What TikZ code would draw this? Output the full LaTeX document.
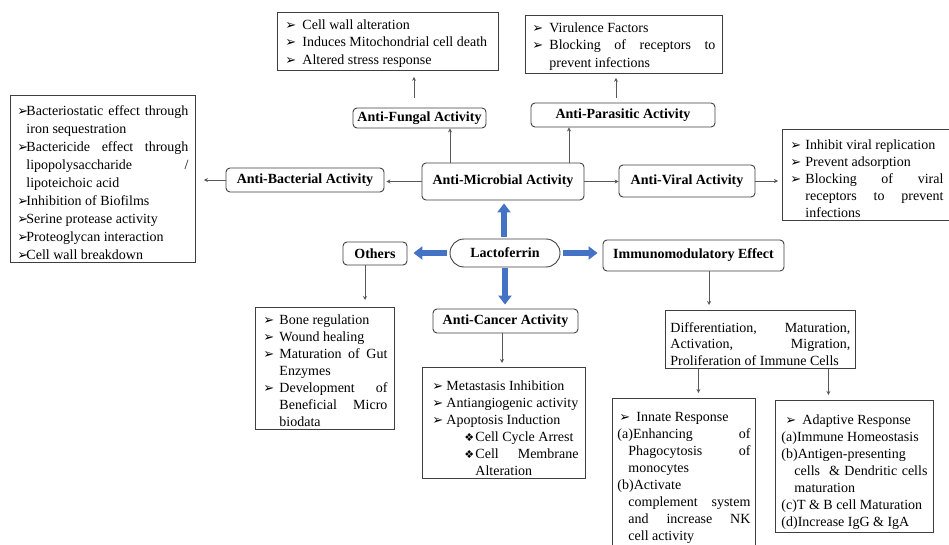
\documentclass[tikz,border=0pt]{standalone}
\usepackage{fontspec}
\setmainfont{Liberation Serif}
\newfontfamily\dingfont{DejaVu Sans}
\usetikzlibrary{arrows.meta, positioning}
\definecolor{BoxLine}{HTML}{3F3F3F}
\definecolor{LinkGray}{HTML}{595959}
\definecolor{LactoBlue}{HTML}{4472C4}
\hyphenpenalty=10000
\exhyphenpenalty=10000
\tolerance=10000
\hbadness=10000
\vbadness=10000
\newcommand{\arrbul}{{\dingfont\fontsize{13}{13}\selectfont ➢}}
\newcommand{\diabul}{{\dingfont\fontsize{11}{11}\selectfont ❖}}
% list items: bullet offset, text offset, text
\newcommand{\bitem}[3]{\par\noindent\hangindent=#2\hangafter=1\hspace*{#1}\makebox[\dimexpr#2-#1\relax][l]{\arrbul}#3}
\newcommand{\ditem}[3]{\par\noindent\hangindent=#2\hangafter=1\hspace*{#1}\makebox[\dimexpr#2-#1\relax][l]{\diabul}#3}
\newcommand{\litem}[2]{\par\noindent\hangindent=#1\hangafter=1 #2}
% top and bottom padding inside a list box
\newcommand{\padtop}[1]{\par\vskip #1\relax}
\newcommand{\padbot}[1]{\par\vskip #1\relax}

\begin{document}
\begin{tikzpicture}[x=1pt, y=-1pt,
    listbox/.style={draw=BoxLine, line width=0.9pt, rectangle, anchor=north west, inner ysep=3pt, align=justify, font=\fontsize{14}{17}\selectfont},
    headbox/.style={draw=BoxLine, line width=0.9pt, rectangle, rounded corners=4pt, inner sep=0pt, font=\fontsize{14}{17}\selectfont\bfseries},
    link/.style={draw=LinkGray, line width=0.8pt, -{Stealth[length=4pt,width=4pt]}},
    bluelink/.style={draw=LactoBlue, line width=6pt, -{Triangle[length=9pt,width=13pt]}}]
  \useasboundingbox (0,0) rectangle (949,545);

  % Nodes
  \node [listbox, inner xsep=8pt, text width=205pt, font=\fontsize{14}{17.5}\selectfont] (fungal) at (277,12) {\padtop{-3.5pt}%
    \bitem{0pt}{17pt}{Cell wall alteration}
    \bitem{0pt}{17pt}{Induces Mitochondrial cell death}
    \bitem{0pt}{17pt}{Altered stress response}\padbot{1pt}};

  \node [listbox, inner xsep=7pt, text width=183pt, font=\fontsize{14}{17.5}\selectfont] (parasitic) at (525,15) {\padtop{-3.5pt}%
    \bitem{0pt}{17pt}{Virulence Factors}
    \bitem{0pt}{17pt}{Blocking of receptors to\linebreak prevent infections}\padbot{0pt}};

  \node [headbox, minimum width=133pt, minimum height=20pt] (afungal) at (419.5,118) {Anti-Fungal Activity};
  \node [headbox, minimum width=184pt, minimum height=24pt] (aparas) at (623,115) {Anti-Parasitic Activity};
  \node [headbox, minimum width=162pt, minimum height=37pt] (amicro) at (503,181.5) {Anti-Microbial Activity};
  \node [headbox, minimum width=158pt, minimum height=24pt] (abact) at (305,180) {Anti-Bacterial Activity};
  \node [headbox, minimum width=136pt, minimum height=32pt] (aviral) at (687,181) {Anti-Viral Activity};

  \node [listbox, inner xsep=7pt, text width=171pt, font=\fontsize{14}{18}\selectfont] (bact) at (10,95) {\padtop{-1pt}%
    \bitem{0pt}{9pt}{Bacteriostatic effect through\linebreak iron sequestration}
    \bitem{0pt}{9pt}{Bactericide effect through\linebreak lipopolysaccharide /\linebreak lipoteichoic acid}
    \bitem{0pt}{9pt}{Inhibition of Biofilms}
    \bitem{0pt}{9pt}{Serine protease activity}
    \bitem{0pt}{9pt}{Proteoglycan interaction}
    \bitem{0pt}{9pt}{Cell wall breakdown}\padbot{0.7pt}};

  \node [listbox, inner xsep=8pt, text width=153pt] (viral) at (782,129) {\padtop{0pt}%
    \bitem{0pt}{15pt}{Inhibit viral replication}
    \bitem{0pt}{15pt}{Prevent adsorption}
    \bitem{0pt}{15pt}{Blocking of viral\linebreak receptors to prevent\linebreak infections}\padbot{5.7pt}};

  \node [headbox, minimum width=64pt, minimum height=23pt] (others) at (375,253.5) {Others};
  \node [headbox, rounded corners=14pt, minimum width=110pt, minimum height=28pt] (lacto) at (505,253) {Lactoferrin};
  \node [headbox, minimum width=181pt, minimum height=31pt] (immuno) at (693.5,255.5) {Immunomodulatory Effect};
  \node [headbox, minimum width=145pt, minimum height=24pt] (acancer) at (505.5,321) {Anti-Cancer Activity};

  \node [listbox, inner xsep=7pt, text width=125pt] (olist) at (255,307) {\padtop{-3.2pt}%
    \bitem{1pt}{17pt}{Bone regulation}
    \bitem{1pt}{17pt}{Wound healing}
    \bitem{1pt}{17pt}{Maturation of Gut\linebreak Enzymes}
    \bitem{1pt}{17pt}{Development of\linebreak Beneficial Micro\linebreak biodata}\padbot{5.7pt}};

  \node [listbox, inner xsep=7pt, text width=149pt] (cancer) at (422,367) {\padtop{3pt}%
    \bitem{3pt}{17pt}{Metastasis Inhibition}
    \bitem{3pt}{17pt}{Antiangiogenic activity}
    \bitem{3pt}{17pt}{Apoptosis Induction}
    \ditem{35pt}{46pt}{Cell Cycle Arrest}
    \ditem{35pt}{46pt}{Cell Membrane\linebreak Alteration}\padbot{8.7pt}};

  \node [listbox, inner xsep=5pt, text width=180pt, font=\fontsize{14}{16.5}\selectfont] (diff) at (665,310) {\padtop{2.5pt}%
    \litem{0pt}{Differentiation, Maturation,\linebreak Activation, Migration,\linebreak Proliferation of Immune Cells}\padbot{7.7pt}};

  \node [listbox, inner xsep=5pt, text width=133pt] (innate) at (612,398) {\padtop{3pt}%
    \bitem{2pt}{19pt}{Innate Response}
    \litem{11pt}{(a)Enhancing of\linebreak Phagocytosis of\linebreak monocytes}
    \litem{11pt}{(b)Activate\newline complement system\linebreak and increase NK\linebreak cell activity}\padbot{20pt}};

  \node [listbox, inner xsep=6pt, text width=146pt] (adaptive) at (775,400) {\padtop{4pt}%
    \bitem{4pt}{21pt}{Adaptive Response}
    \litem{13pt}{(a)Immune Homeostasis}
    \litem{13pt}{(b)Antigen-presenting\newline cells \ \& Dendritic cells\linebreak maturation}
    \litem{13pt}{(c)T \& B cell Maturation}
    \litem{13pt}{(d)Increase IgG \& IgA}\padbot{6pt}};

  % Paths
  \draw[link, shorten <=10pt, shorten >=6pt] ([xshift=-5.5pt]afungal.north) -- ([xshift=-5.5pt]afungal.north |- fungal.south);
  \draw[link, shorten <=5pt, shorten >=4pt] ([xshift=-7pt]aparas.north) -- ([xshift=-7pt]aparas.north |- parasitic.south);
  \draw[link] ([xshift=-53pt]amicro.north) -- ([xshift=-53pt]amicro.north |- afungal.south);
  \draw[link] ([xshift=66pt]amicro.north) -- ([xshift=66pt]amicro.north |- aparas.south);
  \draw[link, shorten >=2pt] (amicro.west) -- (amicro.west -| abact.east);
  \draw[link, shorten >=8pt] (abact.west) -- (abact.west -| bact.east);
  \draw[link] (amicro.east) -- (amicro.east -| aviral.west);
  \draw[link, shorten >=4pt] (aviral.east) -- (aviral.east -| viral.west);
  \draw[link, shorten >=7pt] ([xshift=-10pt]others.south) -- ([xshift=-10pt]others.south |- olist.north);
  \draw[link, shorten >=4pt] ([xshift=-3.5pt]acancer.south) -- ([xshift=-3.5pt]acancer.south |- cancer.north);
  \draw[link, shorten >=5pt] ([xshift=15.5pt]immuno.south) -- ([xshift=15.5pt]immuno.south |- diff.north);
  \draw[link, shorten >=5pt] ([xshift=-62pt]diff.south) -- ([xshift=-62pt]diff.south |- innate.north);
  \draw[link, shorten >=5pt] ([xshift=68pt]diff.south) -- ([xshift=68pt]diff.south |- adaptive.north);

  \draw[bluelink, shorten <=2pt, shorten >=3pt] ([xshift=-1pt]lacto.north) -- ([xshift=-1pt]lacto.north |- amicro.south);
  \draw[bluelink, shorten <=3pt, shorten >=6pt] (lacto.west) -- (lacto.west -| others.east);
  \draw[bluelink, shorten <=3pt, shorten >=5pt] (lacto.east) -- (lacto.east -| immuno.west);
  \draw[bluelink, shorten <=1pt, shorten >=4pt] (lacto.south) -- (lacto.south |- acancer.north);
\end{tikzpicture}
\end{document}
